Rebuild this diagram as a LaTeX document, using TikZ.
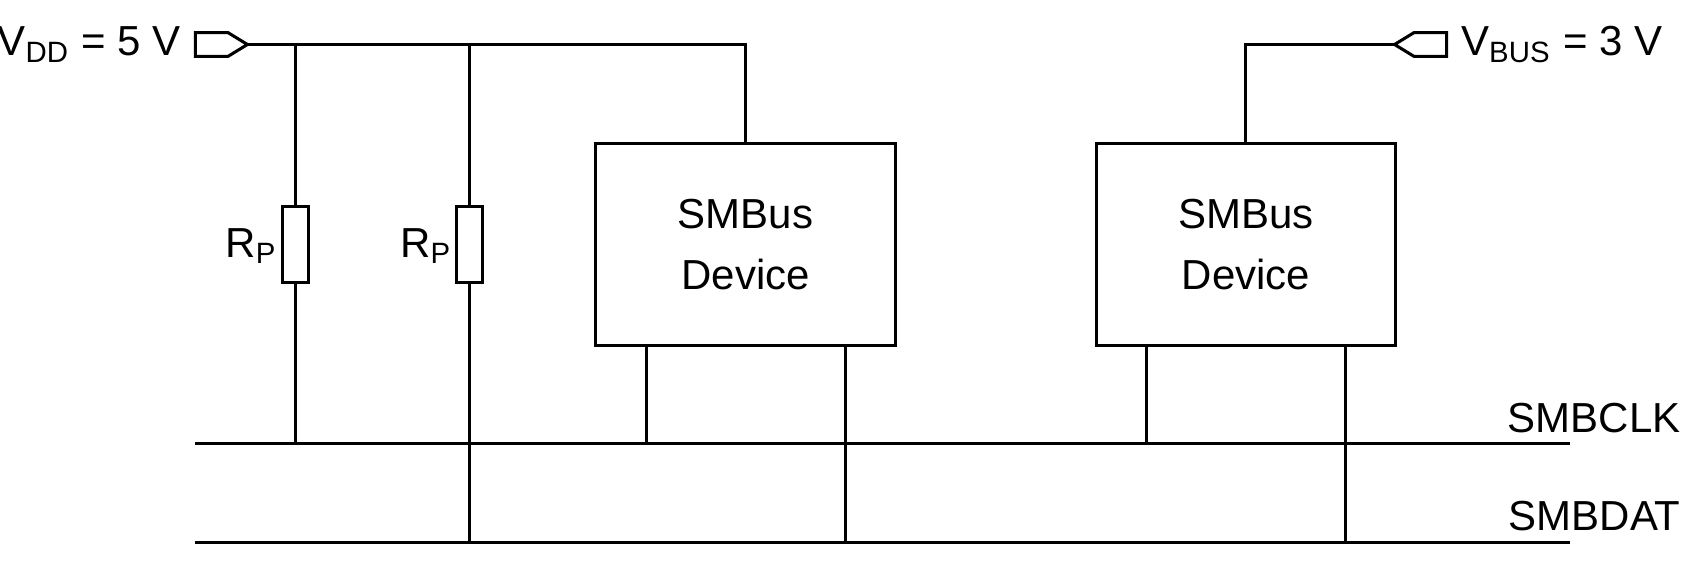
\documentclass[tikz,border=0pt]{standalone}
\usepackage{fontspec}
\setmainfont{Liberation Sans}
\begin{document}
\begin{tikzpicture}[x=0.01cm,y=-0.01cm,line width=0.8pt,
  box/.style={draw,minimum width=2.76cm,minimum height=1.86cm,align=center,font=\fontsize{11pt}{14pt}\selectfont,inner sep=0},
  res/.style={draw,minimum width=0.24cm,minimum height=0.70cm,inner sep=0},
  lbl/.style={font=\fontsize{11pt}{13pt}\selectfont,inner sep=0}]
\useasboundingbox (0,0) rectangle (1560,518);
% connectors
\draw (180,30) -- (210,30) -- (228,41) -- (210,52) -- (180,52) -- cycle;
\coordinate (vdd) at (228,41);
\draw (1333,30) -- (1303,30) -- (1285,41) -- (1303,52) -- (1333,52) -- cycle;
\coordinate (vbus) at (1285,41);
\node[lbl,anchor=east] (tvdd) at (168,41) {V\textsubscript{DD} = 5 V};
\node[lbl,anchor=west] (tvbus) at (1345,41) {V\textsubscript{BUS} = 3 V};
% boxes
\node[box] (d1) at (687,225) {SMBus\\[2pt]Device};
\node[box] (d2) at (1148,225) {SMBus\\[2pt]Device};
% resistors
\node[res] (r1) at (272,225) {};
\node[res] (r2) at (433,225) {};
\node[lbl,anchor=east] (l1) at (257,227) {R\textsubscript{P}};
\node[lbl,anchor=east] (l2) at (418,227) {R\textsubscript{P}};
% bus lines
\coordinate (c0) at (180,409); \coordinate (c1) at (1447,409);
\coordinate (a0) at (180,500); \coordinate (a1) at (1447,500);
\draw (c0) -- (c1);
\draw (a0) -- (a1);
\node[lbl,anchor=south east] (tc) at (1550,400) {SMBCLK};
\node[lbl,anchor=south east] (ta) at (1550,491) {SMBDAT};
% wiring
\draw (vdd) -- (687,41) -- (d1.north);
\draw (272,41) -- (r1.north); \draw (r1.south) -- (272,409);
\draw (433,41) -- (r2.north); \draw (r2.south) -- (433,500);
\draw (vbus) -- (1148,41) -- (d2.north);
\draw (596,318) -- (596,409);
\draw (779,318) -- (779,500);
\draw (1056,318) -- (1056,409);
\draw (1240,318) -- (1240,500);
\end{tikzpicture}
\end{document}
